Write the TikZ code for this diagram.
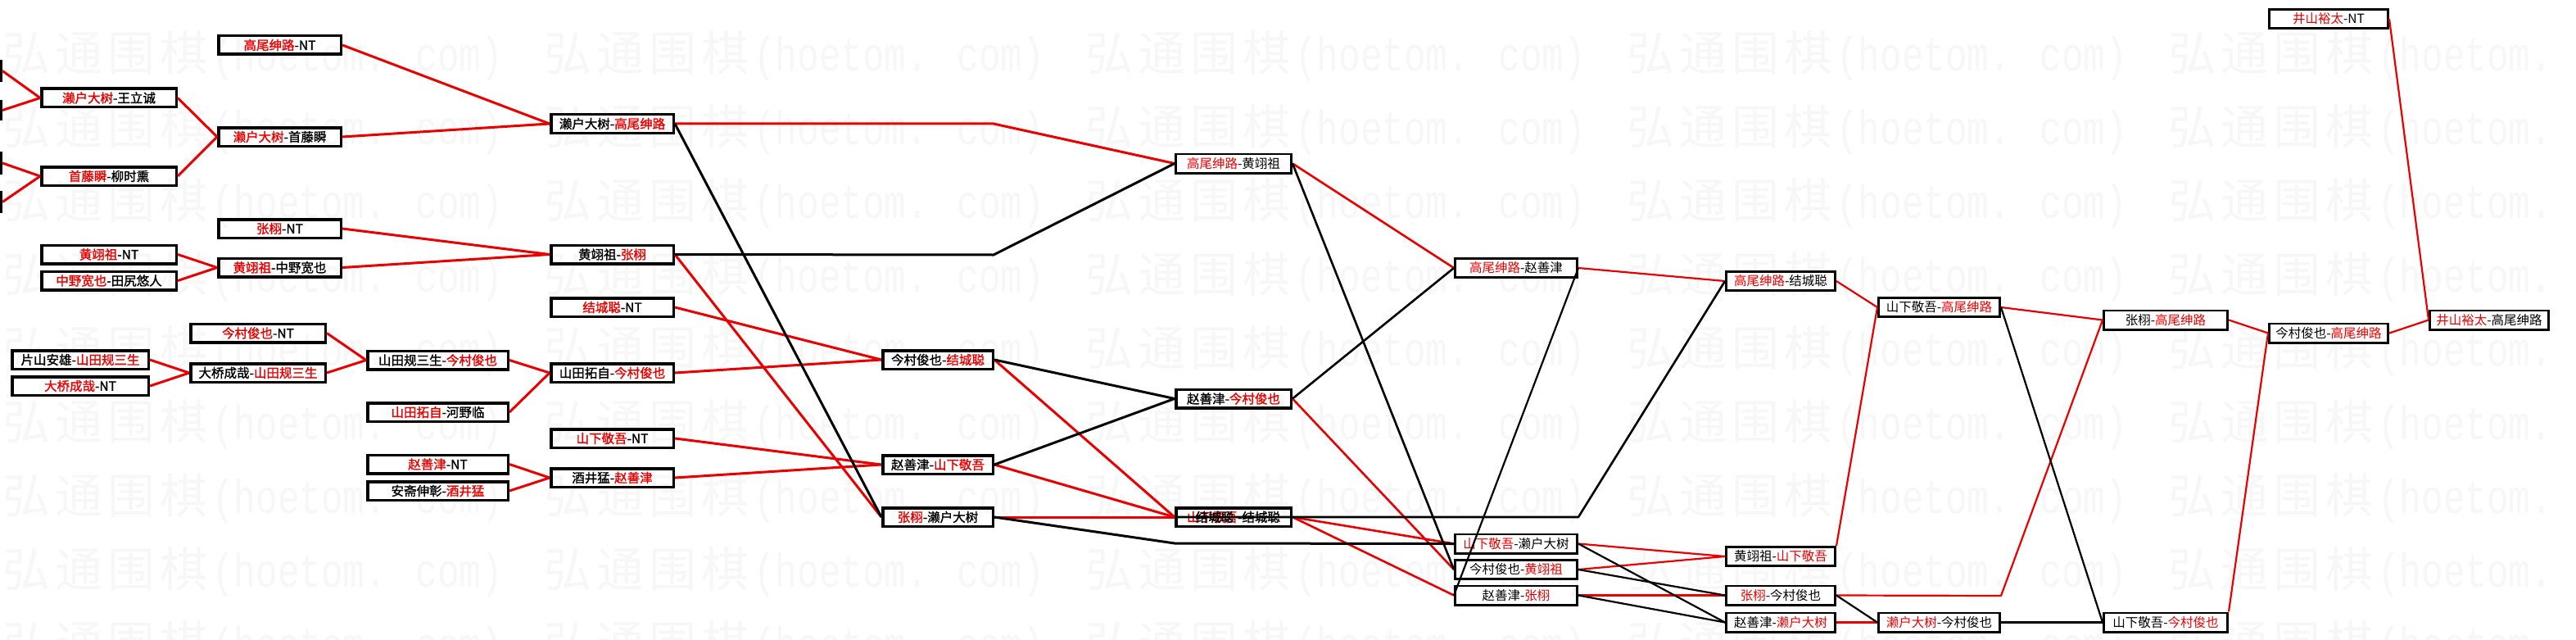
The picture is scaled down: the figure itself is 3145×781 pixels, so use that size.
\documentclass[tikz,border=0pt]{standalone}
\usepackage{fontspec}
\usepackage{graphicx}
\newfontfamily\cjk{Noto Sans CJK SC}
\newfontfamily\cjkb[FakeBold=1.4]{Noto Sans CJK SC}
\newfontfamily\wmmono{Liberation Mono}
\definecolor{rd}{RGB}{235,0,0}
\definecolor{wm}{RGB}{247,247,247}
\newcommand\rn[1]{\textcolor{rd}{#1}}
\newcommand\wmk{\fontsize{58}{58}\selectfont\cjk\makebox[64pt][l]{弘}\makebox[64pt][l]{通}\makebox[64pt][l]{围}\makebox[64pt][l]{棋}\scalebox{0.765}[1]{\wmmono(hoetom. com)}}
\tikzset{
  bx/.style={draw=black, inner sep=0pt, minimum height=22.5pt, line width=3.5pt, font=\cjkb\fontsize{15.5}{15.5}\selectfont},
  bxt/.style={draw=black, inner sep=0pt, minimum height=23.4pt, line width=2.6pt, font=\cjk\fontsize{15.5}{15.5}\selectfont},
  rl/.style={draw=rd, line width=3pt, line join=round},
  bl/.style={draw=black, line width=3pt, line join=round},
  rlm/.style={draw=rd, line width=2.6pt, line join=round},
  blm/.style={draw=black, line width=2.6pt, line join=round},
  rlt/.style={draw=rd, line width=2.2pt, line join=round},
  blt/.style={draw=black, line width=2.2pt, line join=round},
  wmnode/.style={anchor=west, inner sep=0pt, text=wm}
}
\begin{document}
\begin{tikzpicture}[x=1pt,y=-1pt]
\useasboundingbox (0,0) rectangle (3145,781);
\clip (0,0) rectangle (3145,781);
\fill[white] (0,0) rectangle (3145,781);
% watermark
\foreach \r in {0,...,8}{\foreach \k in {0,...,4}{
  \node[wmnode] at (3+661*\k, 68+90*\r) {\wmk};
}}
% column A (cut off)
\node[bx,anchor=east,minimum width=150pt,minimum height=23.5pt] (a1) at (3,86.5) {};
\node[bx,anchor=east,minimum width=150pt,minimum height=21.5pt] (a2) at (3,134.5) {};
\node[bx,anchor=east,minimum width=150pt,minimum height=24.5pt] (a3) at (3,199) {};
\node[bx,anchor=east,minimum width=150pt,minimum height=23.5pt] (a4) at (3,246.5) {};
% column B
\node[bx,minimum width=164.5pt] (b1) at (133,119.5) {\rn{濑户大树}-王立诚};
\node[bx,minimum width=164.5pt] (b2) at (133,215) {\rn{首藤瞬}-柳时熏};
\node[bx,minimum width=164.5pt] (b3) at (133,310.5) {\rn{黄翊祖}-NT};
\node[bx,minimum width=164.5pt] (b4) at (133,342.5) {\rn{中野宽也}-田尻悠人};
\node[bx,minimum width=166.5pt] (b5) at (98,439) {片山安雄-\rn{山田规三生}};
\node[bx,minimum width=166.5pt] (b6) at (98,471) {\rn{大桥成哉}-NT};
% column C
\node[bx,minimum width=149.5pt] (c1) at (341.5,55) {\rn{高尾绅路}-NT};
\node[bx,minimum width=149.5pt] (c2) at (341.5,167) {\rn{濑户大树}-首藤瞬};
\node[bx,minimum width=149.5pt] (c3) at (341.5,279) {\rn{张栩}-NT};
\node[bx,minimum width=149.5pt] (c4) at (341.5,326.5) {\rn{黄翊祖}-中野宽也};
\node[bx,minimum width=164.5pt] (c5) at (315,406.5) {\rn{今村俊也}-NT};
\node[bx,minimum width=164.5pt] (c6) at (315,455) {大桥成哉-\rn{山田规三生}};
% column D
\node[bx,minimum width=171.5pt] (d1) at (534.5,439.5) {山田规三生-\rn{今村俊也}};
\node[bx,minimum width=171.5pt] (d2) at (534.5,503) {\rn{山田拓自}-河野临};
\node[bx,minimum width=171.5pt] (d3) at (534.5,566.5) {\rn{赵善津}-NT};
\node[bx,minimum width=171.5pt] (d4) at (534.5,599) {安斋伸彰-\rn{酒井猛}};
% column E
\node[bx,minimum width=149.5pt] (e1) at (747.5,151) {濑户大树-\rn{高尾绅路}};
\node[bx,minimum width=149.5pt] (e2) at (747.5,310.5) {黄翊祖-\rn{张栩}};
\node[bx,minimum width=149.5pt] (e3) at (747.5,375) {\rn{结城聪}-NT};
\node[bx,minimum width=149.5pt] (e4) at (747.5,455) {山田拓自-\rn{今村俊也}};
\node[bx,minimum width=149.5pt] (e5) at (747.5,535) {\rn{山下敬吾}-NT};
\node[bx,minimum width=149.5pt] (e6) at (747.5,583) {酒井猛-\rn{赵善津}};
% column F
\node[bx,minimum width=134.5pt] (f1) at (1145,439) {今村俊也-\rn{结城聪}};
\node[bx,minimum width=134.5pt] (f2) at (1145,567) {赵善津-\rn{山下敬吾}};
\node[bx,minimum width=134.5pt] (f3) at (1145,631) {\rn{张栩}-濑户大树};
% column G
\node[bxt,minimum width=141.4pt] (g1) at (1506,199.5) {\rn{高尾绅路}-黄翊祖};
\node[bx,minimum width=140.5pt] (g2) at (1506,486.5) {赵善津-\rn{今村俊也}};
\node[bx,minimum width=140.5pt] (g3) at (1506,631) {\rn{山下敬吾}-结城聪};
\node[inner sep=0pt,font=\cjkb\fontsize{15.5}{15.5}\selectfont] (g3x) at (1483,631) {结城聪};
% column H
\node[bxt,minimum width=149.4pt] (h1) at (1851,327) {\rn{高尾绅路}-赵善津};
\node[bxt,minimum width=149.4pt] (h2) at (1851,663.5) {\rn{山下敬吾}-濑户大树};
\node[bxt,minimum width=149.4pt] (h3) at (1851,695) {今村俊也-\rn{黄翊祖}};
\node[bxt,minimum width=149.4pt] (h4) at (1851,726.5) {赵善津-\rn{张栩}};
% column I
\node[bxt,minimum width=133.4pt] (i1) at (2174,343) {\rn{高尾绅路}-结城聪};
\node[bxt,minimum width=133.4pt] (i2) at (2174,679) {黄翊祖-\rn{山下敬吾}};
\node[bxt,minimum width=133.4pt] (i3) at (2174,726.5) {\rn{张栩}-今村俊也};
\node[bxt,minimum width=133.4pt] (i4) at (2174,759.5) {赵善津-\rn{濑户大树}};
% column J
\node[bxt,minimum width=148.4pt] (j1) at (2367.5,375) {山下敬吾-\rn{高尾绅路}};
\node[bxt,minimum width=148.4pt] (j2) at (2367.5,759.5) {\rn{濑户大树}-今村俊也};
% column K
\node[bxt,minimum width=151.4pt] (k1) at (2644,390.5) {张栩-\rn{高尾绅路}};
\node[bxt,minimum width=151.4pt] (k2) at (2644,759.5) {山下敬吾-\rn{今村俊也}};
% column L, M
\node[bxt,minimum width=145.4pt] (l1) at (2843,23) {\rn{井山裕太}-NT};
\node[bxt,minimum width=145.4pt] (l2) at (2843,406.5) {今村俊也-\rn{高尾绅路}};
\node[bxt,minimum width=145.4pt] (m1) at (3039,390.5) {\rn{井山裕太}-高尾绅路};
% waypoints
\coordinate (p1) at (1213,151);
\coordinate (p2) at (1213,311);
\coordinate (p3) at (1434,663);
\coordinate (p4) at (1927,631);
\coordinate (p5) at (2443,727);
% red connectors
\draw[rl] (a1.east) -- (b1.west);
\draw[rl] (a2.east) -- (b1.west);
\draw[rl] (a3.east) -- (b2.west);
\draw[rl] (a4.east) -- (b2.west);
\draw[rl] (b1.east) -- (c2.west);
\draw[rl] (b2.east) -- (c2.west);
\draw[rl] (b3.east) -- (c4.west);
\draw[rl] (b4.east) -- (c4.west);
\draw[rl] (b5.east) -- (c6.west);
\draw[rl] (b6.east) -- (c6.west);
\draw[rl] (c1.east) -- (e1.west);
\draw[rl] (c2.east) -- (e1.west);
\draw[rl] (c3.east) -- (e2.west);
\draw[rl] (c4.east) -- (e2.west);
\draw[rl] (c5.east) -- (d1.west);
\draw[rl] (c6.east) -- (d1.west);
\draw[rl] (d1.east) -- (e4.west);
\draw[rl] (d2.east) -- (e4.west);
\draw[rl] (d3.east) -- (e6.west);
\draw[rl] (d4.east) -- (e6.west);
\draw[rl] (e3.east) -- (f1.west);
\draw[rl] (e4.east) -- (f1.west);
\draw[rl] (e5.east) -- (f2.west);
\draw[rl] (e6.east) -- (f2.west);
\draw[rl] (e2.east) -- (f3.west);
\draw[rl] (e1.east) -- (p1) -- (g1.west);
\draw[rl] (f1.east) -- (g3.west);
\draw[rl] (f2.east) -- (g3.west);
\draw[rl] (f3.east) -- (g3.west);
\draw[rlm] (g1.east) -- (h1.west);
\draw[rlm] (g2.east) -- (h3.west);
\draw[rlm] (g3.east) -- (h2.west);
\draw[rlm] (g3.east) -- (h4.west);
\draw[rlt] (h1.east) -- (i1.west);
\draw[rlt] (h2.east) -- (i2.west);
\draw[rlt] (h3.east) -- (i2.west);
\draw[rlt] (h4.east) -- (i3.west);
\draw[rlt] (i1.east) -- (j1.west);
\draw[rlt] (i2.north east) -- (j1.west);
\draw[rlt] (i3.east) -- (p5) -- (k1.west);
\draw[rlt] (i4.east) -- (j2.west);
\draw[rlt] (j1.east) -- (k1.west);
\draw[rlt] (k1.east) -- (l2.west);
\draw[rlt] (k2.north east) -- (l2.west);
\draw[rlt] (l1.east) -- (m1.west);
\draw[rlt] (l2.east) -- (m1.west);
% black connectors
\draw[bl] (e1.east) -- (f3.west);
\draw[bl] (e2.east) -- (p2) -- (g1.west);
\draw[bl] (f1.east) -- (g2.west);
\draw[bl] (f2.east) -- (g2.west);
\draw[bl] (f3.east) -- (p3) -- (h2.west);
\draw[blm] (g1.east) -- (h3.west);
\draw[blm] (g2.east) -- (h1.west);
\draw[blm] (g3.west) -- (g3.east) -- (p4) -- (i1.west);
\draw[blt] (h1.east) -- (h4.west);
\draw[blt] (h2.east) -- (i4.west);
\draw[blt] (h3.east) -- (i3.west);
\draw[blt] (h4.east) -- (i4.west);
\draw[blt] (i3.east) -- (j2.west);
\draw[blt] (j1.east) -- (k2.west);
\draw[blt] (j2.east) -- (k2.west);
\end{tikzpicture}
\end{document}
